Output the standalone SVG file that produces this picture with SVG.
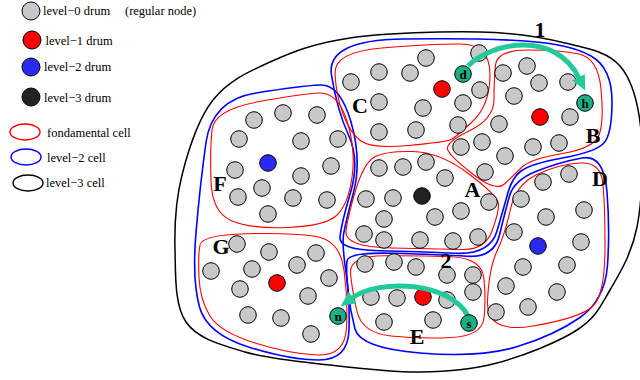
<svg xmlns="http://www.w3.org/2000/svg" width="640" height="380" viewBox="0 0 640 380">
<style>
.c0{fill:#c8c8c8;stroke:#000;stroke-width:1}
.c1{fill:#ff0000;stroke:#000;stroke-width:1}
.c2{fill:#2a2af0;stroke:#000;stroke-width:1}
.c3{fill:#222;stroke:#000;stroke-width:1}
.ct{fill:#1aaf84;stroke:#000;stroke-width:1}
.red{fill:none;stroke:#ff0000;stroke-width:1.1}
.blue{fill:none;stroke:#0000ff;stroke-width:1.6}
.blk{fill:none;stroke:#000;stroke-width:1.5}
.lbl{font-family:"Liberation Serif",serif;font-weight:bold;font-size:22px;text-anchor:middle}
.leg{font-family:"Liberation Serif",serif;font-size:12.5px}
.nl{font-family:"Liberation Serif",serif;font-weight:bold;font-size:13px;text-anchor:middle}
.arr{fill:none;stroke:#22c99a;stroke-width:5}
</style>
<defs>
<marker id="ah" markerUnits="userSpaceOnUse" markerWidth="15" markerHeight="14" refX="1" refY="7" orient="auto"><path d="M0,0 L15,7 L0,14 z" fill="#22c99a"/></marker>
</defs>
<rect width="640" height="380" fill="#fff"/>

<g id="legend">
<circle class="c0" cx="31" cy="11" r="9"/><text class="leg" x="43" y="15">level−0 drum</text><text class="leg" x="125" y="15">(regular node)</text>
<circle class="c1" cx="32" cy="40" r="9"/><text class="leg" x="45.5" y="45">level−1 drum</text>
<circle class="c2" cx="31" cy="67" r="9"/><text class="leg" x="44" y="71">level−2 drum</text>
<circle class="c3" cx="31" cy="97" r="9"/><text class="leg" x="44" y="101.5">level−3 drum</text>
<ellipse cx="25" cy="132" rx="15" ry="8" fill="none" stroke="#ff0000" stroke-width="1.4"/><text class="leg" x="47" y="137">fondamental cell</text>
<ellipse cx="26" cy="157" rx="15" ry="8" fill="none" stroke="#0000ff" stroke-width="1.4"/><text class="leg" x="47" y="161.5">level−2 cell</text>
<ellipse cx="28" cy="183" rx="15" ry="8" fill="none" stroke="#000" stroke-width="1.4"/><text class="leg" x="46" y="187">level−3 cell</text>
</g>

<g id="level3-cell">
<path class="blk" d="M175,250 C174.3,225.5 175.7,200 182,175 C188.3,150 198.3,118.8 213,100 C227.7,81.2 247.2,72.3 270,62 C292.8,51.7 315,43 350,38 C385,33 444.2,31.2 480,32 C515.8,32.8 541.7,37.3 565,43 C588.3,48.7 607.3,51.5 620,66 C632.7,80.5 638.2,103.2 641,130 C643.8,156.8 642.2,200.3 637,227 C631.8,253.7 620,272.8 610,290 C600,307.2 595.8,317.8 577,330 C558.2,342.2 523.2,356 497,363 C470.8,370 447.8,371.7 420,372 C392.2,372.3 359.2,368.3 330,365 C300.8,361.7 269,359.2 245,352 C221,344.8 197.7,339 186,322 C174.3,305 175.7,274.5 175,250 Z"/>
</g>

<g id="level2-cells">
<path id="cell2-ABC" class="blue" d="M403,39 Q480,38 525,41 Q570,44 591,56 Q612,68 612,101.5 Q612,135 603.5,143.5 Q595,152 562.5,158 Q530,164 521,171 Q512,178 508,192.5 Q504,207 497,231 Q490,255 455,253.25 Q420,251.5 379.5,250.75 Q339,250 340,237.5 Q341,225 350.5,192.5 Q360,160 348.5,135 Q337,110 331.5,75 Q326,40 403,39 Z"/>
<path id="cell2-FG" class="blue" d="M256,93 Q300,86 320,85 Q340,84 351,122 Q362,160 353.5,192.5 Q345,225 343.5,235 Q342,245 346,272.5 Q350,300 349,330 Q348,360 319,360 Q290,360 248.5,347 Q207,334 199.5,307 Q192,280 196,232.5 Q200,185 206,142.5 Q212,100 256,93 Z"/>
<path id="cell2-DE" class="blue" d="M347,261 Q348,252 394,253.25 Q440,254.5 467,256.25 Q494,258 499.5,235 Q505,212 509.5,196 Q514,180 537,171 Q560,162 582,158 Q604,154 607,192 Q610,230 607.5,265 Q605,300 580,317.5 Q555,335 517.5,346.5 Q480,358 420,353 Q360,348 355,329 Q350,310 348,290 Q346,270 347,261 Z"/>
</g>

<g id="cell-C">
<path class="red" d="M382,48 Q430,44 460,44 Q490,44 490,74.5 Q490,105 472.5,121.5 Q455,138 450,140 Q445,142 408.5,145.5 Q372,149 361,141 Q350,133 343,114 Q336,95 335,73.5 Q334,52 382,48 Z"/>
<circle class="c0" cx="426" cy="58" r="8.3"/><circle class="c0" cx="379" cy="72" r="8.3"/><circle class="c0" cx="410" cy="73" r="8.3"/><circle class="c0" cx="351" cy="82" r="8.3"/><circle class="c0" cx="479" cy="53" r="8.3"/><circle class="c0" cx="480" cy="90" r="8.3"/><circle class="c0" cx="379" cy="102" r="8.3"/><circle class="c0" cx="423" cy="108" r="8.3"/><circle class="c0" cx="463" cy="103" r="8.3"/><circle class="c0" cx="379" cy="132" r="8.3"/><circle class="c0" cx="416" cy="130" r="8.3"/><circle class="c0" cx="458" cy="125" r="8.3"/>
<circle class="c1" cx="442" cy="89" r="8.3"/>
</g>

<g id="cell-B">
<path class="red" d="M528.5,50 Q560,50 579,54 Q598,58 601,89 Q604,120 599.5,134 Q595,148 562.5,153.5 Q530,159 521.5,167.5 Q513,176 504.5,184 Q496,192 474,175 Q452,158 448,150.5 Q444,143 469,131 Q494,119 494,99.5 Q494,80 495.5,65 Q497,50 528.5,50 Z"/>
<circle class="c0" cx="503" cy="73" r="8.3"/><circle class="c0" cx="527" cy="66" r="8.3"/><circle class="c0" cx="539" cy="83" r="8.3"/><circle class="c0" cx="568" cy="82" r="8.3"/><circle class="c0" cx="514" cy="96" r="8.3"/><circle class="c0" cx="570" cy="117" r="8.3"/><circle class="c0" cx="499" cy="124" r="8.3"/><circle class="c0" cx="482" cy="142" r="8.3"/><circle class="c0" cx="461" cy="147" r="8.3"/><circle class="c0" cx="505" cy="156" r="8.3"/><circle class="c0" cx="533" cy="147" r="8.3"/><circle class="c0" cx="559" cy="143" r="8.3"/><circle class="c0" cx="485" cy="172" r="8.3"/>
<circle class="c1" cx="540" cy="117" r="8.3"/>
</g>

<g id="cell-A">
<path class="red" d="M412.5,151.5 Q440,152 469,174 Q498,196 498.5,204 Q499,212 492,231 Q485,250 462.5,249.5 Q440,249 392,248 Q344,247 346,231 Q348,215 356,189 Q364,163 374.5,157 Q385,151 412.5,151.5 Z"/>
<circle class="c0" cx="379" cy="168" r="8.3"/><circle class="c0" cx="403" cy="167" r="8.3"/><circle class="c0" cx="426" cy="162" r="8.3"/><circle class="c0" cx="445" cy="178" r="8.3"/><circle class="c0" cx="366" cy="199" r="8.3"/><circle class="c0" cx="393" cy="198" r="8.3"/><circle class="c0" cx="384" cy="219" r="8.3"/><circle class="c0" cx="435" cy="217" r="8.3"/><circle class="c0" cx="461" cy="211" r="8.3"/><circle class="c0" cx="489" cy="202" r="8.3"/><circle class="c0" cx="364" cy="234" r="8.3"/><circle class="c0" cx="384" cy="240" r="8.3"/><circle class="c0" cx="420" cy="240" r="8.3"/><circle class="c0" cx="453" cy="241" r="8.3"/><circle class="c0" cx="478" cy="237" r="8.3"/>
<circle class="c3" cx="422" cy="196" r="8.3"/>
</g>

<g id="cell-D">
<path class="red" d="M538,174 Q560,164 580,163 Q600,162 602.5,181 Q605,200 605,247.5 Q605,295 592.5,306.5 Q580,318 533,326 Q486,334 487.5,301 Q489,268 497,251 Q505,234 510.5,209 Q516,184 538,174 Z"/>
<circle class="c0" cx="543" cy="182" r="8.3"/><circle class="c0" cx="569" cy="174" r="8.3"/><circle class="c0" cx="521" cy="199" r="8.3"/><circle class="c0" cx="546" cy="217" r="8.3"/><circle class="c0" cx="584" cy="210" r="8.3"/><circle class="c0" cx="514" cy="232" r="8.3"/><circle class="c0" cx="581" cy="242" r="8.3"/><circle class="c0" cx="523" cy="267" r="8.3"/><circle class="c0" cx="567" cy="265" r="8.3"/><circle class="c0" cx="506" cy="286" r="8.3"/><circle class="c0" cx="557" cy="292" r="8.3"/><circle class="c0" cx="496" cy="312" r="8.3"/><circle class="c0" cx="528" cy="307" r="8.3"/>
<circle class="c2" cx="538" cy="246" r="8.3"/>
</g>

<g id="cell-F">
<path class="red" d="M257,102 Q300,94 319,93 Q338,92 347,121 Q356,150 352,177.5 Q348,205 336.5,215.5 Q325,226 287.5,227.5 Q250,229 231,220.5 Q212,212 211,181 Q210,150 212,130 Q214,110 257,102 Z"/>
<circle class="c0" cx="254" cy="120" r="8.3"/><circle class="c0" cx="283" cy="113" r="8.3"/><circle class="c0" cx="317" cy="115" r="8.3"/><circle class="c0" cx="239" cy="139" r="8.3"/><circle class="c0" cx="301" cy="141" r="8.3"/><circle class="c0" cx="338" cy="139" r="8.3"/><circle class="c0" cx="235" cy="170" r="8.3"/><circle class="c0" cx="301" cy="176" r="8.3"/><circle class="c0" cx="331" cy="166" r="8.3"/><circle class="c0" cx="262" cy="188" r="8.3"/><circle class="c0" cx="238" cy="197" r="8.3"/><circle class="c0" cx="293" cy="198" r="8.3"/><circle class="c0" cx="327" cy="200" r="8.3"/><circle class="c0" cx="268" cy="214" r="8.3"/>
<circle class="c2" cx="268" cy="163" r="8.3"/>
</g>

<g id="cell-G">
<path class="red" d="M246,233.75 Q290,232.5 315,236.25 Q340,240 344,270 Q348,300 346.5,328 Q345,356 317.5,355 Q290,354 255,343 Q220,332 210,316 Q200,300 199,277.5 Q198,255 200,245 Q202,235 246,233.75 Z"/>
<circle class="c0" cx="237" cy="244" r="8.3"/><circle class="c0" cx="269" cy="252" r="8.3"/><circle class="c0" cx="316" cy="253" r="8.3"/><circle class="c0" cx="211" cy="271" r="8.3"/><circle class="c0" cx="252" cy="269" r="8.3"/><circle class="c0" cx="297" cy="265" r="8.3"/><circle class="c0" cx="329" cy="278" r="8.3"/><circle class="c0" cx="240" cy="289" r="8.3"/><circle class="c0" cx="308" cy="296" r="8.3"/><circle class="c0" cx="248" cy="315" r="8.3"/><circle class="c0" cx="281" cy="318" r="8.3"/><circle class="c0" cx="311" cy="334" r="8.3"/>
<circle class="c1" cx="277" cy="283" r="8.3"/>
</g>

<g id="cell-E">
<path class="red" d="M384.5,255.75 Q420,255.5 451,256.75 Q482,258 484,279 Q486,300 484,318 Q482,336 451,337.5 Q420,339 391,336 Q362,333 357,311.5 Q352,290 350.5,273 Q349,256 384.5,255.75 Z"/>
<circle class="c0" cx="365" cy="264" r="8.3"/><circle class="c0" cx="394" cy="262" r="8.3"/><circle class="c0" cx="416" cy="267" r="8.3"/><circle class="c0" cx="447" cy="275" r="8.3"/><circle class="c0" cx="473" cy="275" r="8.3"/><circle class="c0" cx="473" cy="292" r="8.3"/><circle class="c0" cx="371" cy="297" r="8.3"/><circle class="c0" cx="397" cy="298" r="8.3"/><circle class="c0" cx="447" cy="300" r="8.3"/><circle class="c0" cx="384" cy="322" r="8.3"/><circle class="c0" cx="433" cy="320" r="8.3"/>
<circle class="c1" cx="423" cy="297" r="8.3"/>
</g>

<g id="connectors">
<path id="route-1" class="arr" d="M468,66 C492,42 555,30 579,78" marker-end="url(#ah)"/>
<path id="route-2" class="arr" d="M468,316 C450,282 380,278 352,298" marker-end="url(#ah)"/>
</g>

<g id="node-d"><circle class="ct" cx="463" cy="74" r="8.3"/><text class="nl" x="463" y="78.5">d</text></g>
<g id="node-h"><circle class="ct" cx="585" cy="103" r="8.3"/><text class="nl" x="585" y="107.5">h</text></g>
<g id="node-n"><circle class="ct" cx="338" cy="316" r="8.3"/><text class="nl" x="338" y="320.5">n</text></g>
<g id="node-s"><circle class="ct" cx="469" cy="323" r="8.3"/><text class="nl" x="469" y="327.5">s</text></g>

<g id="labels">
<text class="lbl" x="360" y="112.5">C</text>
<text class="lbl" x="593" y="143">B</text>
<text class="lbl" x="472.5" y="197">A</text>
<text class="lbl" x="600" y="186">D</text>
<text class="lbl" x="220" y="191">F</text>
<text class="lbl" x="221" y="254">G</text>
<text class="lbl" x="417" y="344">E</text>
<text class="lbl" x="540" y="37">1</text>
<text class="lbl" x="446" y="268">2</text>
</g>
</svg>
